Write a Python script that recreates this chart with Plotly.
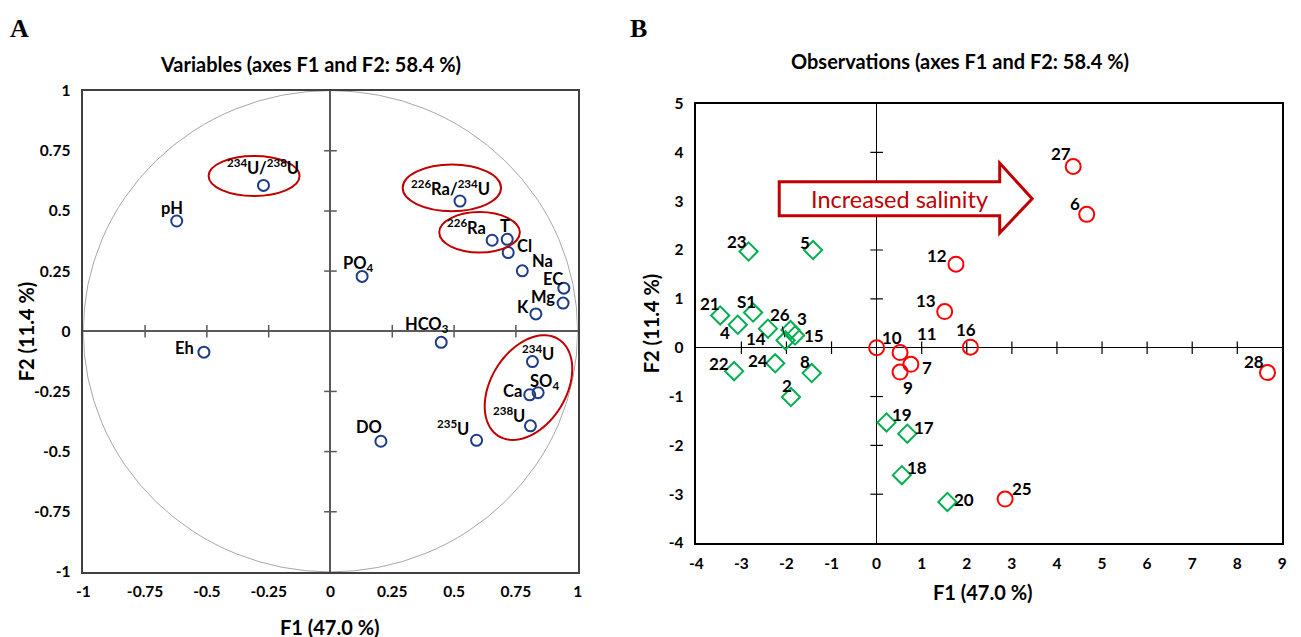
import numpy as np
import plotly.graph_objects as go

# ---------------- data ----------------
# Panel A: variables (correlation circle)
var_labels = ["<sup>234</sup>U/<sup>238</sup>U", "pH", "Eh", "PO<sub>4</sub>", "HCO<sub>3</sub>", "DO",
              "<sup>235</sup>U", "<sup>226</sup>Ra/<sup>234</sup>U", "<sup>226</sup>Ra", "T", "Cl", "Na",
              "EC", "Mg", "K", "<sup>234</sup>U", "SO<sub>4</sub>", "Ca", "<sup>238</sup>U"]
var_f1 = [-0.271, -0.622, -0.512, 0.128, 0.448, 0.204, 0.591, 0.524, 0.654, 0.715, 0.719, 0.776,
          0.944, 0.941, 0.831, 0.817, 0.840, 0.806, 0.809]
var_f2 = [0.606, 0.458, -0.087, 0.228, -0.046, -0.457, -0.453, 0.541, 0.378, 0.382, 0.327, 0.251,
          0.179, 0.117, 0.072, -0.126, -0.255, -0.264, -0.393]

# Panel B: observations
fresh_labels = ["23", "5", "21", "S1", "4", "14", "26", "3", "15", "22", "24", "8", "2",
                "19", "17", "18", "20"]
fresh_f1 = [-2.84, -1.41, -3.47, -2.74, -3.08, -2.41, -2.02, -1.91, -1.81, -3.16, -2.25, -1.44, -1.90,
            0.22, 0.68, 0.56, 1.57]
fresh_f2 = [1.97, 2.00, 0.66, 0.72, 0.47, 0.39, 0.15, 0.36, 0.25, -0.48, -0.32, -0.52, -1.01,
            -1.53, -1.76, -2.61, -3.16]
saline_labels = ["10", "11", "7", "9", "16", "13", "12", "27", "6", "28", "25"]
saline_f1 = [0.00, 0.52, 0.76, 0.52, 2.08, 1.51, 1.76, 4.36, 4.66, 8.67, 2.85]
saline_f2 = [0.00, -0.10, -0.34, -0.50, 0.01, 0.74, 1.71, 3.71, 2.73, -0.51, -3.10]

tickvals_a = [-1, -0.75, -0.5, -0.25, 0, 0.25, 0.5, 0.75, 1]
ticktext_a = ["-1", "-0.75", "-0.5", "-0.25", "0", "0.25", "0.5", "0.75", "1"]
tickvals_bx = [-4, -3, -2, -1, 0, 1, 2, 3, 4, 5, 6, 7, 8, 9]
tickvals_by = [-4, -3, -2, -1, 0, 1, 2, 3, 4, 5]

title_a = "Variables (axes F1 and F2: 58.4 %)"
title_b = "Observations (axes F1 and F2: 58.4 %)"
xtitle = "F1 (47.0 %)"
ytitle = "F2 (11.4 %)"
arrow_text = "Increased salinity"

# ---------------- label offsets (pixels, up positive) ----------------
var_off = {
    0: (0, 18), 1: (-5, 13), 2: (-19, 4), 3: (-4, 13), 4: (-14, 18), 5: (-12, 14),
    6: (-24, 12), 7: (-10, 13), 8: (-26, 13), 9: (-2, 13), 10: (16, 7), 11: (20, 10),
    12: (-11, 9), 13: (-20, 6), 14: (-13, 7), 15: (6, 9), 16: (6, 11), 17: (-17, 4), 18: (-21, 11)
}
fresh_off = {
    "23": (-12, 10), "5": (-8, 8), "21": (-10, 12), "S1": (-7, 11), "4": (-13, -8), "14": (-12, -10),
    "26": (-6, 26), "3": (11, 12), "15": (19, 0), "22": (-15, 8), "24": (-17, 3), "8": (-7, 12),
    "2": (-4, 12), "19": (15, 8), "17": (17, 6), "18": (15, 8), "20": (17, 3)
}
saline_off = {
    "10": (15, 10), "11": (27, 19), "7": (16, -3), "9": (8, -15), "16": (-4, 18), "13": (-19, 11),
    "12": (-19, 9), "27": (-12, 13), "6": (-12, 11), "28": (-14, 11), "25": (17, 11)
}

FONT = "Lato, 'Open Sans', Arial, sans-serif"
W, H = 1301, 637


# map target screen pixel -> figure pixel (compensates page offset/scale of the viewer)
def FX(px):
    return (px - 13.5) / 0.994


def FY(py):
    return (py - 15.2) / 0.975


fig = go.Figure()

# ---------- Panel A ----------
inner_a = [v for v in tickvals_a if v not in (-1, 0, 1)]
fig.add_trace(go.Scatter(x=inner_a, y=[0] * len(inner_a), mode="markers", xaxis="x", yaxis="y",
                         marker=dict(symbol="line-ns", size=9, line=dict(width=1.5, color="#595959")),
                         hoverinfo="skip", showlegend=False))
fig.add_trace(go.Scatter(x=[0] * len(inner_a), y=inner_a, mode="markers", xaxis="x", yaxis="y",
                         marker=dict(symbol="line-ew", size=9, line=dict(width=1.5, color="#595959")),
                         hoverinfo="skip", showlegend=False))
fig.add_trace(go.Scatter(x=var_f1, y=var_f2, mode="markers", xaxis="x", yaxis="y",
                         marker=dict(symbol="circle-open", size=11, color="#1F3C88",
                                     line=dict(width=2, color="#1F3C88")),
                         showlegend=False, cliponaxis=False))

# ---------- Panel B ----------
inner_bx = [v for v in tickvals_bx if v not in (-4, 0, 9)]
inner_by = [v for v in tickvals_by if v not in (-4, 0, 5)]
fig.add_trace(go.Scatter(x=inner_bx, y=[0] * len(inner_bx), mode="markers", xaxis="x2", yaxis="y2",
                         marker=dict(symbol="line-ns", size=9, line=dict(width=1.2, color="black")),
                         hoverinfo="skip", showlegend=False))
fig.add_trace(go.Scatter(x=[0] * len(inner_by), y=inner_by, mode="markers", xaxis="x2", yaxis="y2",
                         marker=dict(symbol="line-ew", size=9, line=dict(width=1.2, color="black")),
                         hoverinfo="skip", showlegend=False))
fig.add_trace(go.Scatter(x=fresh_f1, y=fresh_f2, mode="markers", xaxis="x2", yaxis="y2",
                         marker=dict(symbol="diamond-open", size=14, color="#00B050",
                                     line=dict(width=2, color="#00B050")),
                         showlegend=False, cliponaxis=False))
fig.add_trace(go.Scatter(x=saline_f1, y=saline_f2, mode="markers", xaxis="x2", yaxis="y2",
                         marker=dict(symbol="circle-open", size=15, color="#FF0000",
                                     line=dict(width=2, color="#FF0000")),
                         showlegend=False, cliponaxis=False))

shapes = []
# unit circle
shapes.append(dict(type="circle", xref="x", yref="y", x0=-1, y0=-1, x1=1, y1=1,
                   line=dict(color="#A6A6A6", width=1), layer="below"))
# red ellipses (centre, radii)
for cx, cy, rx, ry in [(-0.309, 0.645, 0.184, 0.083), (0.491, 0.596, 0.199, 0.097),
                       (0.603, 0.411, 0.163, 0.084)]:
    shapes.append(dict(type="circle", xref="x", yref="y", x0=cx - rx, x1=cx + rx, y0=cy - ry, y1=cy + ry,
                       line=dict(color="#C00000", width=2)))
# tilted ellipse
cx, cy, a, b, th = 0.801, -0.234, 0.235, 0.153, np.deg2rad(60)
t = np.linspace(0, 2 * np.pi, 80)
ex = cx + a * np.cos(t) * np.cos(th) - b * np.sin(t) * np.sin(th)
ey = cy + a * np.cos(t) * np.sin(th) + b * np.sin(t) * np.cos(th)
path = "M " + " L ".join(f"{px:.4f},{py:.4f}" for px, py in zip(ex, ey)) + " Z"
shapes.append(dict(type="path", xref="x", yref="y", path=path, line=dict(color="#C00000", width=2)))

# block arrow in panel B
ax0, ax1, atip = -2.16, 2.73, 3.45
ytop, ybot, htop, hbot, ymid = 3.40, 2.70, 3.78, 2.35, 3.05
arrow_path = (f"M {ax0},{ytop} L {ax1},{ytop} L {ax1},{htop} L {atip},{ymid} "
              f"L {ax1},{hbot} L {ax1},{ybot} L {ax0},{ybot} Z")
shapes.append(dict(type="path", xref="x2", yref="y2", path=arrow_path,
                   line=dict(color="#C00000", width=3), fillcolor="white", layer="above"))

ann = []
lab_font_a = dict(family=FONT, size=16.5, color="black", weight="bold")
for i, (lab, x, y) in enumerate(zip(var_labels, var_f1, var_f2)):
    dx, dy = var_off[i]
    ann.append(dict(x=x, y=y, xref="x", yref="y", text=lab, showarrow=False, xshift=dx, yshift=dy,
                    xanchor="center", yanchor="middle", font=lab_font_a))

lab_font_b = dict(family=FONT, size=17, color="black", weight="bold")
for lab, x, y in zip(fresh_labels, fresh_f1, fresh_f2):
    dx, dy = fresh_off[lab]
    if lab == "26":
        ann.append(dict(x=x, y=y, xref="x2", yref="y2", text=lab, showarrow=True, ax=dx, ay=-dy,
                        arrowhead=0, arrowwidth=1, arrowcolor="black", standoff=3,
                        xanchor="center", yanchor="middle", font=lab_font_b))
    else:
        ann.append(dict(x=x, y=y, xref="x2", yref="y2", text=lab, showarrow=False, xshift=dx, yshift=dy,
                        xanchor="center", yanchor="middle", font=lab_font_b))
for lab, x, y in zip(saline_labels, saline_f1, saline_f2):
    dx, dy = saline_off[lab]
    ann.append(dict(x=x, y=y, xref="x2", yref="y2", text=lab, showarrow=False, xshift=dx, yshift=dy,
                    xanchor="center", yanchor="middle", font=lab_font_b))

ann.append(dict(x=0.50, y=3.05, xref="x2", yref="y2", text=arrow_text, showarrow=False,
                font=dict(family=FONT, size=23.5, color="#C00000")))


def paper(px, py):
    return FX(px) / W, 1 - FY(py) / H


title_font = dict(family=FONT, size=20, color="black", weight="bold")
axis_font = dict(family=FONT, size=20, color="black", weight="bold")
for txt, (px, py), f, ang in [
    (title_a, (310, 61), title_font, 0), (title_b, (962, 58), title_font, 0),
    (xtitle, (330, 626), axis_font, 0), (xtitle, (985, 591), axis_font, 0),
    (ytitle, (24, 329), axis_font, -90), (ytitle, (651, 321), axis_font, -90),
]:
    x, y = paper(px, py)
    ann.append(dict(x=x, y=y, xref="paper", yref="paper", text=txt, showarrow=False, textangle=ang,
                    xanchor="center", yanchor="middle", font=f))
for txt, (px, py) in [("A", (18, 26)), ("B", (639, 26))]:
    x, y = paper(px, py)
    ann.append(dict(x=x, y=y, xref="paper", yref="paper", text=txt, showarrow=False,
                    xanchor="center", yanchor="middle",
                    font=dict(family="'Liberation Serif', 'Times New Roman', serif", size=26,
                              color="black", weight="bold")))

tick_font = dict(family=FONT, size=15.5, color="black", weight="bold")
common = dict(showgrid=False, zeroline=True, showline=True, mirror=True, ticks="", fixedrange=True)

fig.update_layout(
    width=W, height=H, margin=dict(l=0, r=0, t=0, b=0),
    paper_bgcolor="white", plot_bgcolor="white",
    shapes=shapes, annotations=ann,
    xaxis=dict(domain=[FX(82) / W, FX(578) / W], range=[-1, 1], tickvals=tickvals_a, ticktext=ticktext_a,
               linecolor="#404040", linewidth=1.5, zerolinecolor="#595959", zerolinewidth=1.5,
               tickfont=tick_font, ticklabelstandoff=5, anchor="y", **common),
    yaxis=dict(domain=[1 - FY(571) / H, 1 - FY(88) / H], range=[-1, 1], tickvals=tickvals_a,
               ticktext=ticktext_a,
               linecolor="#404040", linewidth=1.5, zerolinecolor="#595959", zerolinewidth=1.5,
               tickfont=tick_font, ticklabelstandoff=8, anchor="x", **common),
    xaxis2=dict(domain=[FX(697) / W, FX(1285) / W], range=[-4, 9], tickvals=tickvals_bx,
                ticktext=[str(v) for v in tickvals_bx],
                linecolor="black", linewidth=1.5, zerolinecolor="black", zerolinewidth=1,
                tickfont=tick_font, ticklabelstandoff=6, anchor="y2", **common),
    yaxis2=dict(domain=[1 - FY(542) / H, 1 - FY(101) / H], range=[-4, 5], tickvals=tickvals_by,
                ticktext=[str(v) for v in tickvals_by],
                linecolor="black", linewidth=1.5, zerolinecolor="black", zerolinewidth=1,
                tickfont=tick_font, ticklabelstandoff=8, anchor="x2", **common),
)

fig.write_html("out.html")
